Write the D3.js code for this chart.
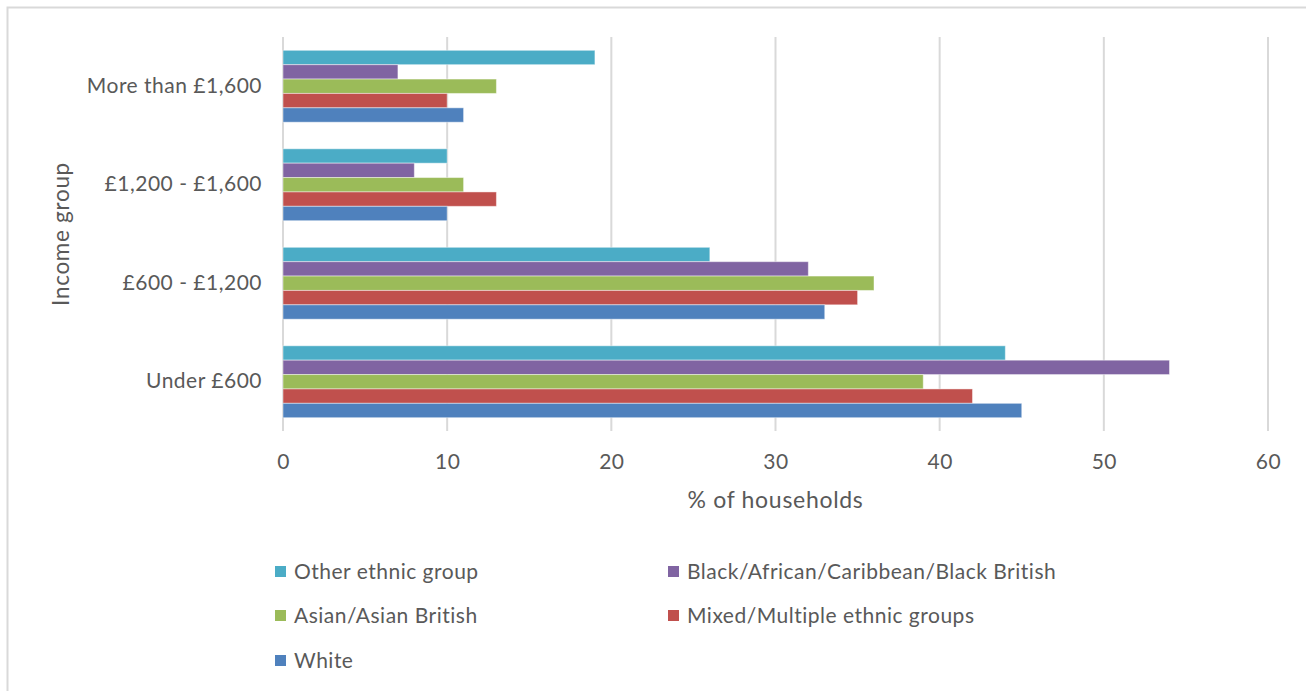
<!DOCTYPE html>
<html>
<head>
<meta charset="utf-8">
<script src="https://cdn.jsdelivr.net/npm/d3@7"></script>
<style>
  html, body { margin: 0; padding: 0; background: #fff; }
  svg { display: block; }
  text { font-family: Lato, "Open Sans", sans-serif; fill: #595959; }
</style>
</head>
<body>
<svg id="chart" width="1306" height="691"></svg>
<script>
// Income bands, top to bottom
const categories = ["More than £1,600", "£1,200 - £1,600", "£600 - £1,200", "Under £600"];

// Ethnic groups, in the order drawn within each band (top to bottom)
const seriesNames = [
  "Other ethnic group",
  "Black/African/Caribbean/Black British",
  "Asian/Asian British",
  "Mixed/Multiple ethnic groups",
  "White"
];
const seriesColors = ["#4BACC6", "#8064A2", "#9BBB59", "#C0504D", "#4F81BD"];

// % of households, per category (same order as categories)
const otherValues  = [19, 10, 26, 44];
const blackValues  = [7, 8, 32, 54];
const asianValues  = [13, 11, 36, 39];
const mixedValues  = [10, 13, 35, 42];
const whiteValues  = [11, 10, 33, 45];

const xTicks = [0, 10, 20, 30, 40, 50, 60];

const seriesValues = [otherValues, blackValues, asianValues, mixedValues, whiteValues];

const svg = d3.select("#chart");

// chart frame
svg.append("path")
  .attr("d", "M7.5,691 V7.5 H1306")
  .attr("fill", "none")
  .attr("stroke", "#d9d9d9")
  .attr("stroke-width", 2);

const plot = { left: 283, right: 1268, top: 37, bottom: 431 };

const x = d3.scaleLinear().domain([0, 60]).range([plot.left, plot.right]);
const y = d3.scaleBand().domain(categories)
  .range([plot.top, plot.bottom])
  .paddingInner(0.27).paddingOuter(0.135);
const ySub = d3.scaleBand().domain(seriesNames).range([0, y.bandwidth()]).padding(0);

// vertical gridlines
svg.append("g").selectAll("line").data(xTicks).join("line")
  .attr("x1", d => x(d)).attr("x2", d => x(d))
  .attr("y1", plot.top).attr("y2", plot.bottom)
  .attr("stroke", "#d9d9d9").attr("stroke-width", 2);

// bars
const groups = svg.append("g").selectAll("g").data(categories).join("g")
  .attr("transform", d => `translate(0,${y(d)})`);

groups.selectAll("rect")
  .data((c, ci) => seriesNames.map((s, si) => ({ s, si, v: seriesValues[si][ci] })))
  .join("rect")
  .attr("x", x(0))
  .attr("y", d => ySub(d.s))
  .attr("width", d => x(d.v) - x(0))
  .attr("height", ySub.bandwidth())
  .attr("fill", d => seriesColors[d.si])
  .attr("stroke", "rgba(255,255,255,0.45)")
  .attr("stroke-width", 1);

const labelStyle = sel => sel
  .style("font-size", "21px")
  .style("letter-spacing", "0.5px")
  .style("font-family", "Lato, sans-serif")
  .attr("fill", "#595959");

// x axis tick labels
const xAxis = d3.axisBottom(x).tickValues(xTicks).tickSize(0).tickPadding(0);
const gx = svg.append("g").attr("transform", `translate(0,${plot.bottom})`).call(xAxis);
gx.select(".domain").remove();
gx.selectAll("text")
  .attr("dy", null).attr("y", 38)
  .call(labelStyle);

// y axis tick labels
const yAxis = d3.axisLeft(y).tickSize(0).tickPadding(21);
const gy = svg.append("g").attr("transform", `translate(${plot.left},0)`).call(yAxis);
gy.select(".domain").remove();
gy.selectAll("text").call(labelStyle);

// axis titles
svg.append("text")
  .attr("x", x(30)).attr("y", 508)
  .attr("text-anchor", "middle")
  .style("font-size", "23px")
  .style("letter-spacing", "0.7px")
  .text("% of households");

svg.append("text")
  .attr("transform", "translate(69,234) rotate(-90)")
  .attr("text-anchor", "middle")
  .style("font-size", "22.5px")
  .style("letter-spacing", "0.7px")
  .text("Income group");

// legend
const legendPos = [
  { x: 275, y: 572 }, { x: 668, y: 572 },
  { x: 275, y: 616 }, { x: 668, y: 616 },
  { x: 275, y: 661 }
];
const legend = svg.append("g").selectAll("g").data(seriesNames).join("g")
  .attr("transform", (d, i) => `translate(${legendPos[i].x},${legendPos[i].y})`);
legend.append("rect")
  .attr("x", 0).attr("y", -6).attr("width", 11).attr("height", 11)
  .attr("fill", (d, i) => seriesColors[i]);
legend.append("text")
  .attr("x", 19).attr("y", 0).attr("dy", "0.35em")
  .call(labelStyle);
legend.selectAll("text").text(d => d);
</script>
</body>
</html>
